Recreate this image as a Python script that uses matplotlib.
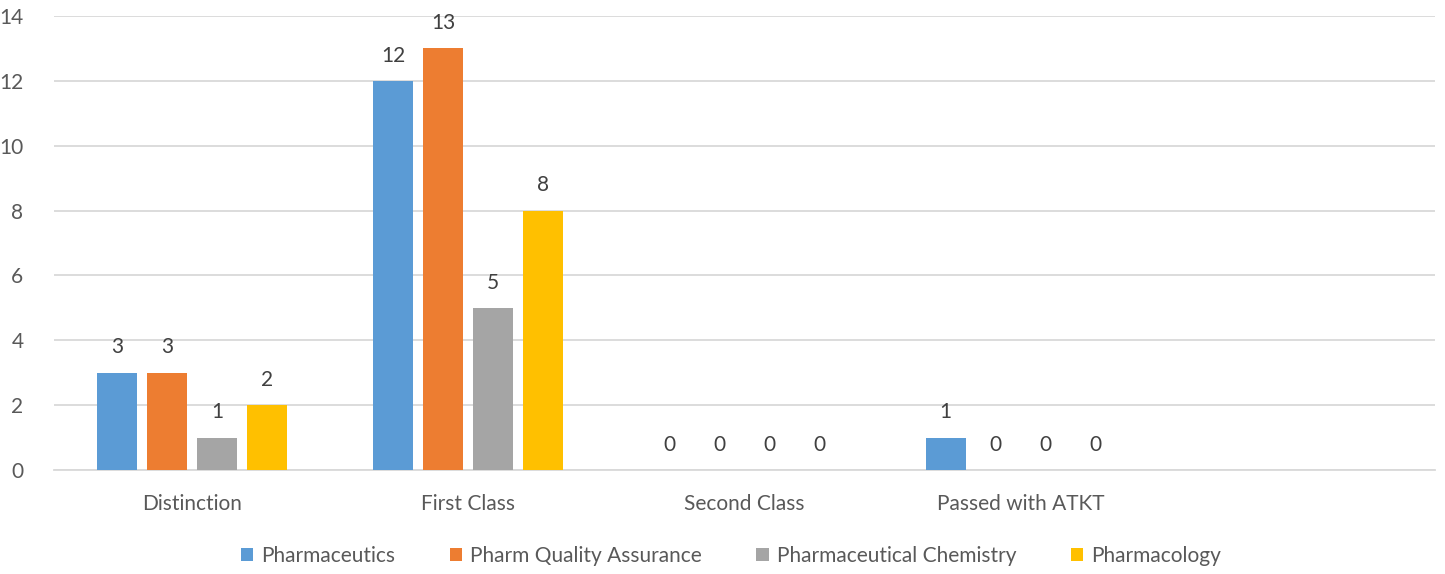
import numpy as np
import matplotlib
matplotlib.use('Agg')
from matplotlib import pyplot as plt

categories = ['Distinction', 'First Class', 'Second Class', 'Passed with ATKT', '']
series_names = ['Pharmaceutics', 'Pharm Quality Assurance', 'Pharmaceutical Chemistry', 'Pharmacology']
pharmaceutics = [3, 12, 0, 1]
quality_assurance = [3, 13, 0, 0]
chemistry = [1, 5, 0, 0]
pharmacology = [2, 8, 0, 0]
colors = ['#5B9BD5', '#ED7D31', '#A5A5A5', '#FFC000']

plt.rcParams['font.family'] = ['Lato', 'DejaVu Sans']
text_col = '#595959'
fs = 15

fig = plt.figure(figsize=(14.45, 5.74), dpi=100)
ax = fig.add_axes([54 / 1445, 1 - 470 / 574, 1381 / 1445, 454 / 574])

values = [pharmaceutics, quality_assurance, chemistry, pharmacology]
x = np.arange(len(categories) - 1)
width = 0.145
step = 0.181
for i, (name, vals, col) in enumerate(zip(series_names, values, colors)):
    pos = x + (i - 1.5) * step
    bars = ax.bar(pos, vals, width, color=col, label=name, zorder=3)
    for b, v in zip(bars, vals):
        ax.annotate(str(v), (b.get_x() + b.get_width() / 2, v), xytext=(0, 11),
                    textcoords='offset points', ha='center', va='bottom',
                    fontsize=fs, color='#404040')

ax.set_xlim(-0.5, len(categories) - 0.5)
ax.set_ylim(0, 14)
ax.set_yticks(range(0, 15, 2))
ax.set_xticks(range(len(categories)))
ax.set_xticklabels(categories)
ax.grid(axis='y', color='#D9D9D9', linewidth=1.3, zorder=0)
for s in ['top', 'right', 'left']:
    ax.spines[s].set_visible(False)
ax.spines['bottom'].set_color('#D9D9D9')
ax.spines['bottom'].set_linewidth(1.3)
ax.tick_params(axis='both', length=0, labelsize=fs, colors=text_col)
ax.tick_params(axis='x', pad=17)
ax.tick_params(axis='y', pad=22)

ax.legend(loc='center', bbox_to_anchor=(731 / 1445, 1 - 556 / 574),
          bbox_transform=fig.transFigure, ncol=4, frameon=False,
          fontsize=fs, labelcolor=text_col, handlelength=0.6, handleheight=0.6,
          handletextpad=0.4, columnspacing=2.6)

fig.savefig('out.png', dpi=100)
